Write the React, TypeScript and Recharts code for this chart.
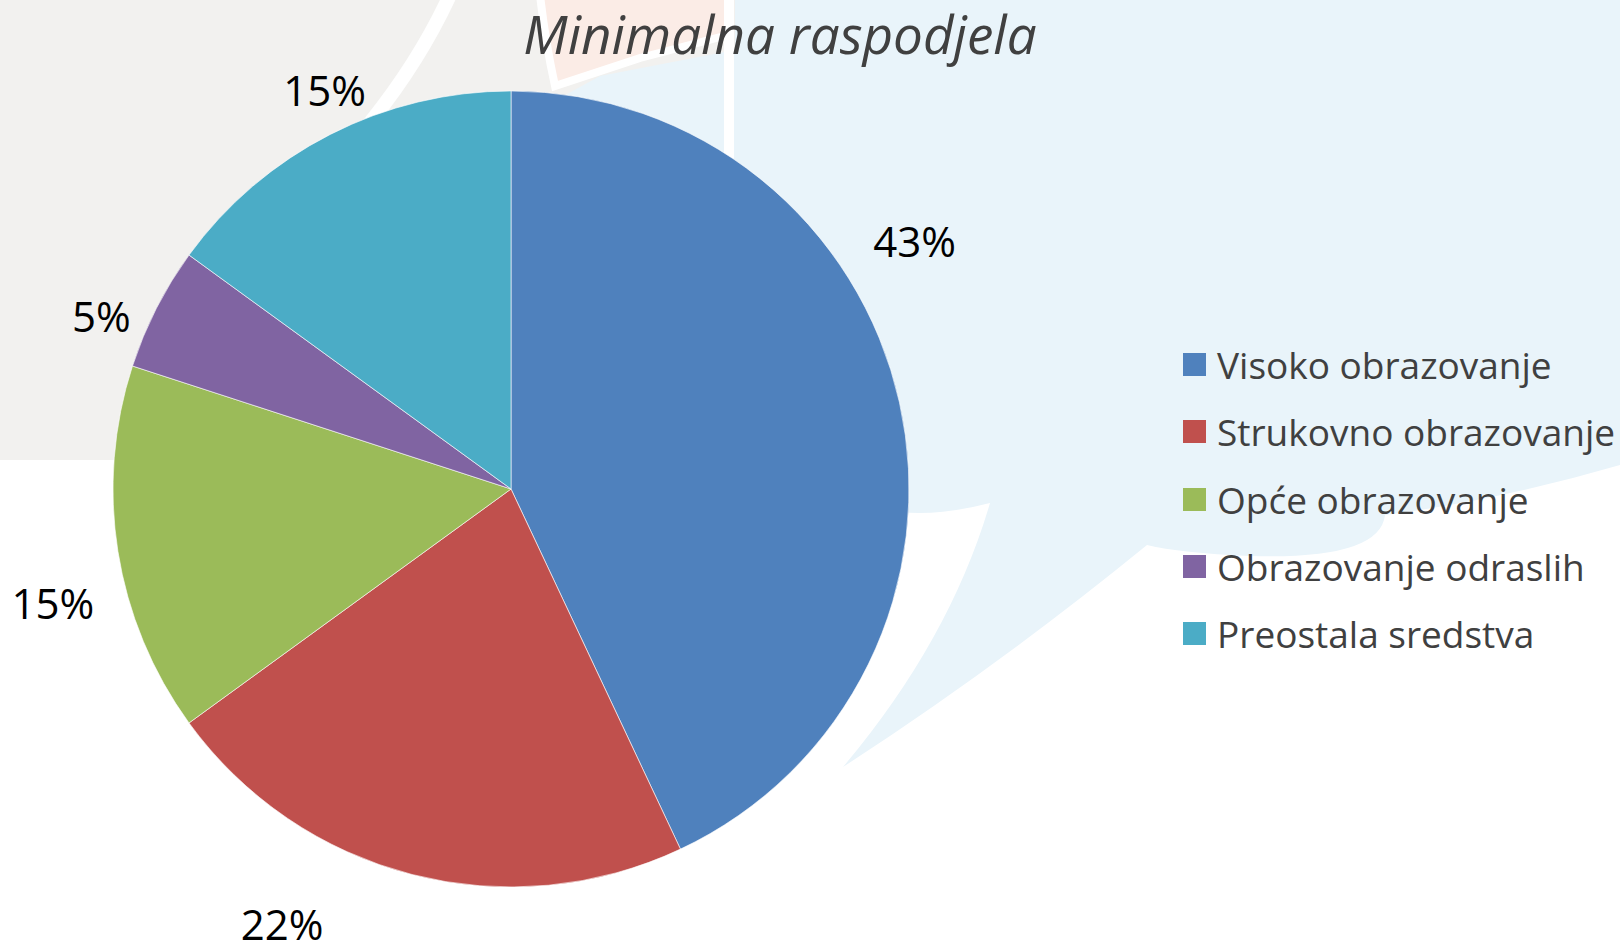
import React from 'react';
import { PieChart, Pie, Cell, Legend } from 'recharts';

const categories = [
  'Visoko obrazovanje',
  'Strukovno obrazovanje',
  'Opće obrazovanje',
  'Obrazovanje odraslih',
  'Preostala sredstva',
];
const values = [43, 22, 15, 5, 15];
const colors = ['#4f81bd', '#c0504d', '#9bbb59', '#8064a2', '#4bacc6'];
const title = 'Minimalna raspodjela';

const data = categories.map((name, i) => ({ name, value: values[i] }));

// label placement style (angle nudge in degrees, radial gap in px)
const labelNudge = [19, -13.4, 4.9, 4, -2];
const labelGap = [76, 93, 74, 47, 43];

const RAD = Math.PI / 180;
const FONT = '"Open Sans", sans-serif';

const renderLabel = (props: any) => {
  const { cx, cy, midAngle, outerRadius, index, percent } = props;
  const a = (midAngle + labelNudge[index]) * RAD;
  const r = outerRadius + labelGap[index];
  const x = cx + r * Math.cos(a);
  const y = cy - r * Math.sin(a);
  return (
    <text
      x={x}
      y={y}
      textAnchor="middle"
      dominantBaseline="central"
      fontFamily={FONT}
      fontSize={42}
      fill="#000"
    >
      {`${Math.round(percent * 100)}%`}
    </text>
  );
};

const renderLegend = (props: any) => {
  const payload = [...(props.payload || [])].sort(
    (a: any, b: any) => categories.indexOf(a.value) - categories.indexOf(b.value)
  );
  return (
    <div style={{ fontFamily: FONT }}>
      {payload.map((p: any, i: number) => (
        <div
          key={i}
          style={{ display: 'flex', alignItems: 'center', height: 67.3 }}
        >
          <div
            style={{
              width: 23,
              height: 23,
              background: p.color,
              marginRight: 11,
              flex: '0 0 auto',
            }}
          />
          <span style={{ fontSize: 37, color: '#404040', whiteSpace: 'nowrap' }}>
            {p.value}
          </span>
        </div>
      ))}
    </div>
  );
};

const Background = () => (
  <svg
    width={1620}
    height={947}
    style={{ position: 'absolute', left: 0, top: 0 }}
  >
    <rect x={0} y={0} width={1620} height={947} fill="#ffffff" />
    <rect x={0} y={0} width={740} height={460} fill="#f2f1ef" />
    <path
      d="M 560 98 L 600 76 L 735 50 L 735 0 L 1620 0 L 1620 465 Q 1500 500 1385 515 Q 1380 560 1250 556 Q 1180 553 1147 545 Q 1000 665 843 767 Q 950 640 990 503 Q 940 516 900 512 L 560 505 Z"
      fill="#e9f4fa"
    />
    <path
      d="M 540 -5 L 728 -5 L 728 35 L 640 58 L 555 86 Q 545 40 540 -5 Z"
      fill="#fbece6"
      stroke="#ffffff"
      strokeWidth={8}
    />
    <rect x={724} y={0} width={10} height={170} fill="#ffffff" />
    <path
      d="M 450 -5 Q 420 60 372 120 L 340 170"
      stroke="#ffffff"
      strokeWidth={14}
      fill="none"
    />
  </svg>
);

export default function App() {
  return (
    <div
      style={{
        position: 'absolute',
        left: 0,
        top: 0,
        width: 1620,
        height: 947,
        overflow: 'hidden',
        background: '#fff',
      }}
    >
      <Background />
      <div
        style={{
          position: 'absolute',
          left: 0,
          top: 0,
          width: 1620,
          height: 947,
        }}
      >
        <PieChart
          width={1620}
          height={947}
          margin={{ top: 0, right: 0, bottom: 0, left: 0 }}
        >
          <Pie
            data={data}
            dataKey="value"
            nameKey="name"
            cx={511}
            cy={489}
            outerRadius={398}
            startAngle={90}
            endAngle={-270}
            isAnimationActive={false}
            labelLine={false}
            label={renderLabel}
            stroke="rgba(255,255,255,0.6)"
            strokeWidth={1}
          >
            {data.map((d, i) => (
              <Cell key={d.name} fill={colors[i]} />
            ))}
          </Pie>
          <Legend
            layout="vertical"
            content={renderLegend}
            wrapperStyle={{ position: 'absolute', left: 1183, top: 331, width: 437 }}
          />
        </PieChart>
      </div>
      <div
        style={{
          position: 'absolute',
          left: 0,
          width: 1560,
          top: 0,
          textAlign: 'center',
          fontFamily: FONT,
          fontStyle: 'italic',
          fontSize: 53,
          color: '#404040',
          lineHeight: '68px',
          whiteSpace: 'nowrap',
        }}
      >
        {title}
      </div>
    </div>
  );
}
